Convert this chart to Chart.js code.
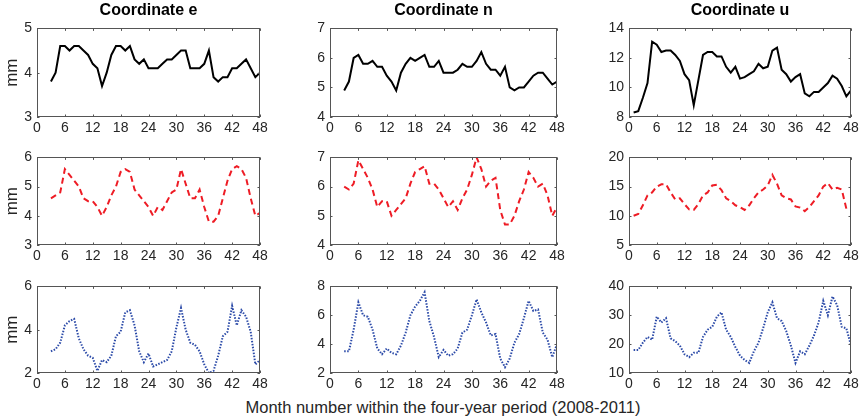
<!DOCTYPE html>
<html>
<head>
<meta charset="utf-8">
<script src="https://cdn.jsdelivr.net/npm/chart.js@4/dist/chart.umd.min.js"></script>
<style>
  body { margin: 0; background: #fff; width: 862px; height: 418px; position: relative; overflow: hidden;
         font-family: "Liberation Sans", Arial, sans-serif; }
  .panel { position: absolute; }
  .title { position: absolute; top: 1px; font-weight: bold; font-size: 16px; color: #000; text-align: center; }
  #xlabel { position: absolute; left: 0; width: 886px; top: 398px; text-align: center; font-size: 16.5px; color: #262626; }
</style>
</head>
<body>
<div id="xlabel">Month number within the four-year period (2008-2011)</div>
<script>
// Month axis
const xTicks = [0, 6, 12, 18, 24, 30, 36, 42, 48];
const startEN = 3;   // e and n series begin at month 3
const startU = 1;    // u series begins at month 1
const coordNames = ['Coordinate e', 'Coordinate n', 'Coordinate u'];

// Row 1: observed (black solid)
const row1E = [3.8, 4.0, 4.6, 4.6, 4.5, 4.6, 4.6, 4.5, 4.4, 4.2,
               4.1, 3.7, 4.0, 4.4, 4.6, 4.6, 4.5, 4.6, 4.3, 4.2,
               4.3, 4.1, 4.1, 4.1, 4.2, 4.3, 4.3, 4.4, 4.5, 4.5,
               4.1, 4.1, 4.1, 4.2, 4.5, 3.9, 3.8, 3.9, 3.9, 4.1,
               4.1, 4.2, 4.3, 4.1, 3.9, 4.0];
const row1N = [4.9, 5.2, 6.0, 6.1, 5.8, 5.8, 5.9, 5.7, 5.7, 5.4,
               5.2, 4.9, 5.5, 5.8, 6.0, 5.9, 6.0, 6.1, 5.7, 5.7,
               5.9, 5.5, 5.5, 5.5, 5.6, 5.8, 5.7, 5.7, 5.9, 6.2,
               5.8, 5.6, 5.6, 5.4, 5.7, 5.0, 4.9, 5.0, 5.0, 5.2,
               5.4, 5.5, 5.5, 5.3, 5.1, 5.2];
const row1U = [8.3, 8.4, 9.3, 10.3, 13.1, 12.9, 12.4, 12.5, 12.5, 12.2,
               11.8, 10.9, 10.5, 8.8, 10.5, 12.2, 12.4, 12.4, 12.1, 12.1,
               11.4, 11.0, 11.4, 10.6, 10.7, 10.9, 11.1, 11.6, 11.3, 11.4,
               12.5, 12.7, 11.2, 10.9, 10.4, 10.7, 10.9, 9.6, 9.4, 9.7,
               9.7, 10.0, 10.3, 10.8, 10.6, 10.1, 9.4, 9.8];

// Row 2: red dashed
const row2E = [4.6, 4.7, 4.8, 5.6, 5.4, 5.2, 5.0, 4.6, 4.5, 4.5,
               4.3, 4.0, 4.3, 4.7, 5.0, 5.5, 5.6, 5.5, 4.9, 4.7,
               4.5, 4.3, 4.0, 4.3, 4.2, 4.5, 4.8, 4.9, 5.6, 5.1,
               4.6, 4.6, 4.9, 4.3, 3.8, 3.8, 4.0, 4.6, 5.2, 5.6,
               5.7, 5.6, 5.3, 4.6, 4.0, 4.1];
const row2N = [6.0, 5.9, 6.1, 6.9, 6.6, 6.3, 5.9, 5.3, 5.5, 5.5,
               5.0, 5.2, 5.4, 5.6, 6.1, 6.5, 6.6, 6.7, 6.1, 6.1,
               5.9, 5.6, 5.3, 5.5, 5.2, 5.6, 5.9, 6.4, 7.0, 6.6,
               6.0, 6.2, 6.3, 5.2, 4.7, 4.7, 5.0, 5.5, 5.9, 6.5,
               6.3, 6.0, 6.1, 5.7, 5.0, 5.3];
const row2U = [10.0, 10.3, 11.8, 13.5, 14.0, 15.0, 15.4, 15.4, 14.0, 12.8,
               13.0, 12.0, 11.1, 11.0, 12.0, 13.5, 14.0, 15.2, 15.3, 14.4,
               13.0, 12.5, 11.8, 11.5, 11.0, 11.8, 13.0, 14.0, 14.5, 15.2,
               17.0, 15.5, 13.5, 13.0, 12.8, 11.6, 11.4, 10.8, 11.5, 12.5,
               13.5, 15.0, 15.6, 14.5, 14.8, 14.5, 11.2, 11.3];

// Row 3: blue dotted
const row3E = [3.0, 3.1, 3.4, 4.2, 4.4, 4.5, 3.6, 3.1, 2.8, 2.7,
               2.1, 2.6, 2.5, 2.8, 3.7, 3.9, 4.8, 4.9, 4.2, 3.0,
               2.5, 2.9, 2.3, 2.4, 2.5, 2.6, 3.0, 4.1, 5.0, 4.0,
               3.4, 3.3, 3.0, 2.4, 2.0, 2.1, 2.8, 3.7, 3.9, 5.1,
               4.2, 4.9, 4.6, 3.9, 2.4, 2.6];
const row3N = [3.5, 3.5, 5.0, 6.9, 6.0, 5.9, 5.0, 3.7, 3.3, 3.7,
               3.4, 3.3, 3.9, 4.8, 6.0, 6.6, 7.0, 7.6, 5.6, 4.5,
               3.1, 3.6, 3.2, 3.3, 3.7, 4.8, 5.0, 6.0, 7.1, 6.2,
               5.5, 4.6, 4.7, 3.0, 2.4, 3.0, 4.1, 4.7, 5.8, 7.0,
               6.3, 6.4, 4.8, 4.3, 3.1, 4.0];
const row3U = [18.0, 18.0, 20.5, 22.5, 21.5, 29.5, 27.5, 29.0, 22.0, 21.0,
               19.5, 16.5, 15.5, 17.0, 17.0, 22.5, 25.0, 26.0, 29.5, 31.0,
               25.0, 22.5, 19.0, 16.0, 14.5, 13.5, 17.5, 20.5, 25.5, 31.0,
               34.5, 29.0, 28.0, 24.5, 19.5, 13.5, 17.5, 16.5, 19.5, 23.0,
               27.5, 35.0, 30.0, 36.5, 33.5, 26.0, 25.5, 19.5];

// Y tick labels per panel
const yTicks1E = [3, 4, 5],  yTicks1N = [4, 5, 6, 7], yTicks1U = [8, 10, 12, 14];
const yTicks2E = [3, 4, 5, 6], yTicks2N = [4, 5, 6, 7], yTicks2U = [5, 10, 15, 20];
const yTicks3E = [2, 4, 6],  yTicks3N = [2, 4, 6, 8], yTicks3U = [10, 20, 30, 40];

// Layout of plot boxes (pixels)
const cols = [{ left: 37, width: 223 }, { left: 330, width: 227 }, { left: 629, width: 222 }];
const rows = [{ top: 23, height: 94 }, { top: 152, height: 93 }, { top: 281, height: 92 }];
const AXIS_W = 36, AXIS_H = 22, PAD_T = 8, PAD_R = 12;

const lineStyles = [
  { color: '#000000', dash: [], width: 2 },
  { color: '#ee1c25', dash: [6, 4], width: 2 },
  { color: '#2b4aa8', dash: [1.5, 1.5], width: 2 }
];

const panels = [
  [{ values: row1E, start: startEN, ticks: yTicks1E }, { values: row1N, start: startEN, ticks: yTicks1N }, { values: row1U, start: startU, ticks: yTicks1U }],
  [{ values: row2E, start: startEN, ticks: yTicks2E }, { values: row2N, start: startEN, ticks: yTicks2N }, { values: row2U, start: startU, ticks: yTicks2U }],
  [{ values: row3E, start: startEN, ticks: yTicks3E }, { values: row3N, start: startEN, ticks: yTicks3N }, { values: row3U, start: startU, ticks: yTicks3U }]
];

// Box with small inward tick marks, MATLAB style
const framePlugin = {
  id: 'frame',
  afterDraw(chart) {
    const { ctx, chartArea: a, scales: { x, y } } = chart;
    ctx.save();
    ctx.strokeStyle = '#555555';
    ctx.lineWidth = 1;
    ctx.strokeRect(Math.round(a.left) + 0.5, Math.round(a.top) + 0.5,
                   Math.round(a.width) - 1, Math.round(a.height) - 1);
    ctx.beginPath();
    x.ticks.forEach(t => {
      const px = Math.round(x.getPixelForValue(t.value)) + 0.5;
      ctx.moveTo(px, a.bottom); ctx.lineTo(px, a.bottom - 2.5);
      ctx.moveTo(px, a.top); ctx.lineTo(px, a.top + 2.5);
    });
    y.ticks.forEach(t => {
      const py = Math.round(y.getPixelForValue(t.value)) + 0.5;
      ctx.moveTo(a.left, py); ctx.lineTo(a.left + 2.5, py);
      ctx.moveTo(a.right, py); ctx.lineTo(a.right - 2.5, py);
    });
    ctx.stroke();
    ctx.restore();
  }
};

const tickFont = { family: '"Liberation Sans", Arial, sans-serif', size: 14 };

panels.forEach((row, r) => {
  row.forEach((p, c) => {
    const box = { left: cols[c].left, width: cols[c].width, top: rows[r].top, height: rows[r].height };
    const canvas = document.createElement('canvas');
    canvas.className = 'panel';
    const w = AXIS_W + box.width + PAD_R;
    const h = PAD_T + box.height + AXIS_H;
    canvas.style.left = (box.left - AXIS_W) + 'px';
    canvas.style.top = (box.top - PAD_T) + 'px';
    canvas.style.width = w + 'px';
    canvas.style.height = h + 'px';
    canvas.width = w;
    canvas.height = h;
    document.body.appendChild(canvas);

    if (r === 0) {
      const t = document.createElement('div');
      t.className = 'title';
      t.style.left = box.left + 'px';
      t.style.width = box.width + 'px';
      t.textContent = coordNames[c];
      document.body.appendChild(t);
    }

    const st = lineStyles[r];
    new Chart(canvas.getContext('2d'), {
      type: 'line',
      data: {
        datasets: [{
          data: p.values.map((v, i) => ({ x: p.start + i, y: v })),
          borderColor: st.color,
          borderWidth: st.width,
          borderDash: st.dash,
          pointRadius: 0,
          tension: 0,
          fill: false
        }]
      },
      options: {
        responsive: false,
        animation: false,
        devicePixelRatio: 1,
        layout: { padding: { top: PAD_T, right: PAD_R, left: 0, bottom: 0 } },
        plugins: { legend: { display: false }, tooltip: { enabled: false } },
        scales: {
          x: {
            type: 'linear',
            min: 0,
            max: 48,
            afterBuildTicks: s => { s.ticks = xTicks.map(v => ({ value: v })); },
            afterFit: s => { s.height = AXIS_H; },
            grid: { display: false, drawTicks: false },
            border: { display: false },
            ticks: { color: '#262626', font: tickFont, padding: 3, maxRotation: 0, autoSkip: false }
          },
          y: {
            type: 'linear',
            min: p.ticks[0],
            max: p.ticks[p.ticks.length - 1],
            afterBuildTicks: s => { s.ticks = p.ticks.map(v => ({ value: v })); },
            afterFit: s => { s.width = AXIS_W; },
            grid: { display: false, drawTicks: false },
            border: { display: false },
            ticks: { color: '#262626', font: tickFont, padding: 5 },
            title: {
              display: c === 0,
              text: 'mm',
              color: '#262626',
              font: { family: '"Liberation Sans", Arial, sans-serif', size: 17 },
              padding: { top: 1, bottom: 0 }
            }
          }
        }
      },
      plugins: [framePlugin]
    });
  });
});
</script>
</body>
</html>
